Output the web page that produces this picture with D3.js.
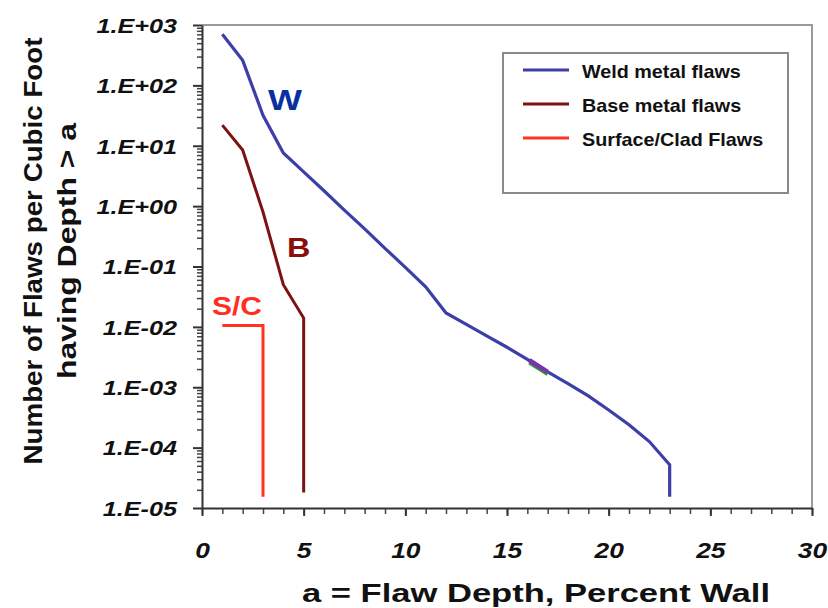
<!DOCTYPE html>
<html>
<head>
<meta charset="utf-8">
<script src="https://cdn.jsdelivr.net/npm/d3@7"></script>
<style>
  body { margin: 0; background: #fff; }
  svg { display: block; }
</style>
</head>
<body>
<div id="chart"></div>
<script>
// flaw depth (percent wall) vs flaws per cubic foot with depth > a
const weldDepth = [1, 2, 3, 4, 5, 6, 7, 8, 9, 10, 11, 12, 13, 14, 15, 16, 17, 18, 19, 20, 21, 22, 23, 23];
const weldFlaws = [700, 260, 32, 7.6, 3.7, 1.8, 0.86, 0.42, 0.2, 0.097, 0.046, 0.017, 0.011, 0.0071,
                   0.0046, 0.0029, 0.0018, 0.00115, 0.00072, 0.00042, 0.00024, 0.000126, 0.000052, 0.0000153];

const baseDepth = [1, 2, 3, 4, 5, 5];
const baseFlaws = [22, 8.5, 0.8, 0.05, 0.014, 0.000018];

const cladDepth = [1, 3, 3];
const cladFlaws = [0.0105, 0.0105, 0.0000153];

// small highlighted stretch sitting on the weld curve
const markDepth = [16.1, 17.0];
const markFlaws = [0.0028, 0.0018];

const seriesNames = ["Weld metal flaws", "Base metal flaws", "Surface/Clad Flaws"];
const xTicks = [0, 5, 10, 15, 20, 25, 30];
const yTickExps = [3, 2, 1, 0, -1, -2, -3, -4, -5];
const yTickLabels = ["1.E+03", "1.E+02", "1.E+01", "1.E+00", "1.E-01", "1.E-02", "1.E-03", "1.E-04", "1.E-05"];

const FONT = "'Liberation Sans', Arial, Helvetica, sans-serif";
const width = 828, height = 608;
const margin = {top: 25, right: 16, bottom: 100, left: 202};
const plotW = width - margin.left - margin.right;   // 610
const plotH = height - margin.top - margin.bottom;  // 483

const colors = {weld: "#3d3ea8", base: "#7d1212", clad: "#ff3322"};

const svg = d3.select("#chart").append("svg")
    .attr("width", width)
    .attr("height", height);

const g = svg.append("g")
    .attr("transform", "translate(" + margin.left + "," + margin.top + ")");

const x = d3.scaleLinear().domain([0, 30]).range([0, plotW]);
const y = d3.scaleLog().domain([1e-5, 1e3]).range([plotH, 0]);

// frame (top + right in grey)
g.append("path")
    .attr("d", "M0,0H" + plotW + "V" + plotH)
    .attr("fill", "none")
    .attr("stroke", "#9a9a9a")
    .attr("stroke-width", 2);

// y minor ticks
const yMinor = [];
for (let e = -5; e < 3; e++) {
    for (let m = 2; m <= 9; m++) yMinor.push(m * Math.pow(10, e));
}
g.append("g")
    .call(d3.axisLeft(y).tickValues(yMinor).tickSize(5).tickFormat(""))
    .call(a => a.select(".domain").remove())
    .selectAll("line").attr("stroke", "#444").attr("stroke-width", 1.5);

// y major ticks + labels
const yAxis = g.append("g")
    .call(d3.axisLeft(y)
        .tickValues(yTickExps.map(e => Math.pow(10, e)))
        .tickSize(9)
        .tickSizeOuter(0)
        .tickFormat((d, i) => yTickLabels[i]));
yAxis.select(".domain").attr("stroke", "#333").attr("stroke-width", 2);
yAxis.selectAll("line").attr("stroke", "#333").attr("stroke-width", 2);
yAxis.selectAll("text")
    .attr("font-family", FONT)
    .attr("font-size", 21)
    .attr("font-weight", "bold")
    .attr("font-style", "italic")
    .attr("fill", "#111")
    .attr("x", -25 / 1.2)
    .attr("dy", "0.35em")
    .attr("transform", "scale(1.2,1)");

// x minor ticks
g.append("g")
    .attr("transform", "translate(0," + plotH + ")")
    .call(d3.axisBottom(x).tickValues(d3.range(0, 31)).tickSize(6).tickFormat(""))
    .call(a => a.select(".domain").remove())
    .selectAll("line").attr("stroke", "#444").attr("stroke-width", 1.5);

// x major ticks + labels
const xAxis = g.append("g")
    .attr("transform", "translate(0," + plotH + ")")
    .call(d3.axisBottom(x).tickValues(xTicks).tickSize(8).tickSizeOuter(0).tickFormat(d3.format("d")));
xAxis.select(".domain").attr("stroke", "#333").attr("stroke-width", 2);
xAxis.selectAll("line").attr("stroke", "#333").attr("stroke-width", 2);
xAxis.selectAll("text")
    .attr("font-family", FONT)
    .attr("font-size", 22)
    .attr("font-weight", "bold")
    .attr("font-style", "italic")
    .attr("fill", "#111")
    .attr("y", 50)
    .attr("dy", 0)
    .attr("transform", "scale(1.2,1)");

// curves
const line = d3.line()
    .x(d => x(d[0]))
    .y(d => y(d[1]));

function drawSeries(depth, flaws, color, w) {
    g.append("path")
        .datum(d3.zip(depth, flaws))
        .attr("fill", "none")
        .attr("stroke", color)
        .attr("stroke-width", w)
        .attr("stroke-linejoin", "miter")
        .attr("d", line);
}

drawSeries(cladDepth, cladFlaws, colors.clad, 3);
drawSeries(baseDepth, baseFlaws, colors.base, 3);
drawSeries(weldDepth, weldFlaws, colors.weld, 3.2);
drawSeries(markDepth, markFlaws.map(v => v * 0.92), "#2e9a2e", 4);
drawSeries(markDepth, markFlaws, "#7a33b0", 4.5);

// curve annotations (data coords)
const notes = [
    {text: "W", at: [3.25, 39], color: "#0a2fa0", size: 30},
    {text: "B", at: [4.18, 0.144], color: "#8a0e0e", size: 27},
    {text: "S/C", at: [0.49, 0.0157], color: "#ff2e1e", size: 25}
];
notes.forEach(n => {
    g.append("text")
        .attr("font-family", FONT)
        .attr("font-weight", "bold")
        .attr("font-size", n.size)
        .attr("fill", n.color)
        .attr("transform", "translate(" + x(n.at[0]) + "," + y(n.at[1]) + ") scale(1.2,1)")
        .text(n.text);
});

// legend
const legend = svg.append("g").attr("transform", "translate(503,53)");
legend.append("rect")
    .attr("width", 285)
    .attr("height", 140)
    .attr("fill", "#fff")
    .attr("stroke", "#8a8a8a")
    .attr("stroke-width", 2);
const legendColors = [colors.weld, colors.base, colors.clad];
seriesNames.forEach((name, i) => {
    const row = legend.append("g").attr("transform", "translate(0," + (17 + i * 34) + ")");
    row.append("line")
        .attr("x1", 20).attr("x2", 66)
        .attr("stroke", legendColors[i])
        .attr("stroke-width", 3);
    row.append("text")
        .attr("transform", "translate(79,8) scale(1.04,1)")
        .attr("font-family", FONT)
        .attr("font-weight", "bold")
        .attr("font-size", 19)
        .attr("fill", "#111")
        .text(name);
});

// axis titles
svg.append("text")
    .attr("x", 536)
    .attr("y", 602)
    .attr("text-anchor", "middle")
    .attr("font-family", FONT)
    .attr("font-weight", "bold")
    .attr("font-size", 25)
    .attr("fill", "#111")
    .attr("textLength", 468)
    .attr("lengthAdjust", "spacingAndGlyphs")
    .text("a = Flaw Depth, Percent Wall");

const yTitle = [
    {text: "Number of Flaws per Cubic Foot", bx: 42, len: 427},
    {text: "having Depth > a", bx: 76, len: 256}
];
yTitle.forEach(t => {
    svg.append("text")
        .attr("transform", "translate(" + t.bx + ",251) rotate(-90)")
        .attr("text-anchor", "middle")
        .attr("font-family", FONT)
        .attr("font-weight", "bold")
        .attr("font-size", 25)
        .attr("fill", "#111")
        .attr("textLength", t.len)
        .attr("lengthAdjust", "spacingAndGlyphs")
        .text(t.text);
});
</script>
</body>
</html>
